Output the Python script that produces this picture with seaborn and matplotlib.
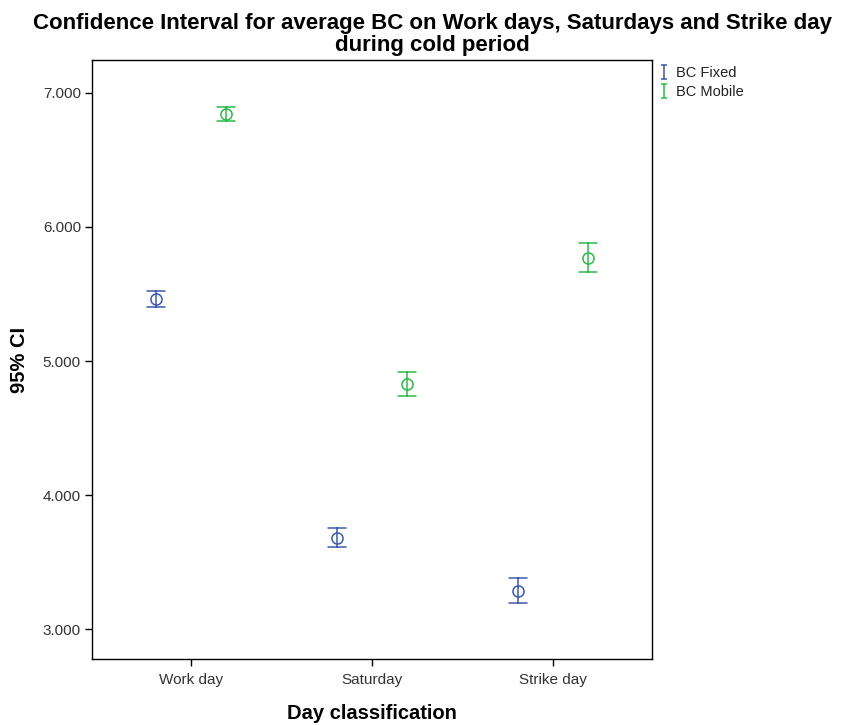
import numpy as np
import pandas as pd
import matplotlib
matplotlib.use("Agg")
import matplotlib.pyplot as plt
from matplotlib.path import Path
from matplotlib.lines import Line2D
import seaborn as sns

# ---- data ----
days = ["Work day", "Saturday", "Strike day"]
series = ["BC Fixed", "BC Mobile"]
fixed_mean = [5.463, 3.679, 3.284]
fixed_low = [5.403, 3.612, 3.194]
fixed_high = [5.522, 3.754, 3.381]
mobile_mean = [6.843, 4.828, 5.769]
mobile_low = [6.791, 4.739, 5.664]
mobile_high = [6.896, 4.918, 5.881]
y_ticks = [3.0, 4.0, 5.0, 6.0, 7.0]

colors = {"BC Fixed": "#3E58AC", "BC Mobile": "#2EB848"}

rows = []
for s, lo, me, hi in [("BC Fixed", fixed_low, fixed_mean, fixed_high),
                      ("BC Mobile", mobile_low, mobile_mean, mobile_high)]:
    for d, a, b, c in zip(days, lo, me, hi):
        for v in (a, b, c):
            rows.append({"day": d, "series": s, "value": v})
df = pd.DataFrame(rows)

sns.set_theme(style="white")
plt.rcParams["font.family"] = ["Liberation Sans", "DejaVu Sans"]

fig = plt.figure(figsize=(8.45, 7.25), dpi=100)
ax = fig.add_axes([0.1089, 0.0910, 0.6627, 0.8262])

sns.pointplot(data=df, x="day", y="value", hue="series", order=days,
              hue_order=series, palette=colors, estimator="median",
              errorbar=lambda v: (np.min(v), np.max(v)),
              dodge=0.39, linestyle="none", markers="o",
              markersize=8, markeredgewidth=1.1, markerfacecolor="none",
              capsize=0.1, err_kws={"linewidth": 1.1}, legend=False, ax=ax)

ax.set_xlim(-0.547, 2.547)
ax.set_ylim(2.776, 7.246)
ax.set_yticks(y_ticks)
ax.set_yticklabels([f"{t:.3f}" for t in y_ticks])
ax.tick_params(axis="both", which="both", direction="out", length=5,
               width=1, color="black", labelsize=11, labelcolor="#333333",
               left=True, bottom=True, pad=3)
ax.tick_params(axis="x", pad=5)
for sp in ax.spines.values():
    sp.set_visible(True)
    sp.set_color("black")
    sp.set_linewidth(1.0)

ax.set_xlabel("Day classification", fontsize=14.5, fontweight="bold",
              labelpad=12, color="black")
ax.set_ylabel("95% CI", fontsize=14.5, fontweight="bold", labelpad=10,
              color="black")

fig.text(0.512, 1 - 13 / 725,
         "Confidence Interval for average BC on Work days, Saturdays and Strike day\nduring cold period",
         ha="center", va="top", fontsize=16, fontweight="bold",
         linespacing=1.06, color="black")

# legend with I-shaped error bar symbols
ipath = Path([(-0.45, -1), (0.45, -1), (0, -1), (0, 1), (-0.45, 1), (0.45, 1)],
             [Path.MOVETO, Path.LINETO, Path.MOVETO, Path.LINETO, Path.MOVETO, Path.LINETO])
handles = [Line2D([], [], linestyle="none", marker=ipath, markersize=10,
                  markeredgewidth=1.1, color=colors[s], markerfacecolor="none")
           for s in series]
fig.legend(handles, series, loc="upper left", bbox_to_anchor=(0.772, 0.917),
           frameon=False, fontsize=10.5, handlelength=0.8, handletextpad=0.4,
           labelspacing=0.35, borderaxespad=0, labelcolor="#222222")

fig.savefig("out.png", dpi=100, facecolor="white")
